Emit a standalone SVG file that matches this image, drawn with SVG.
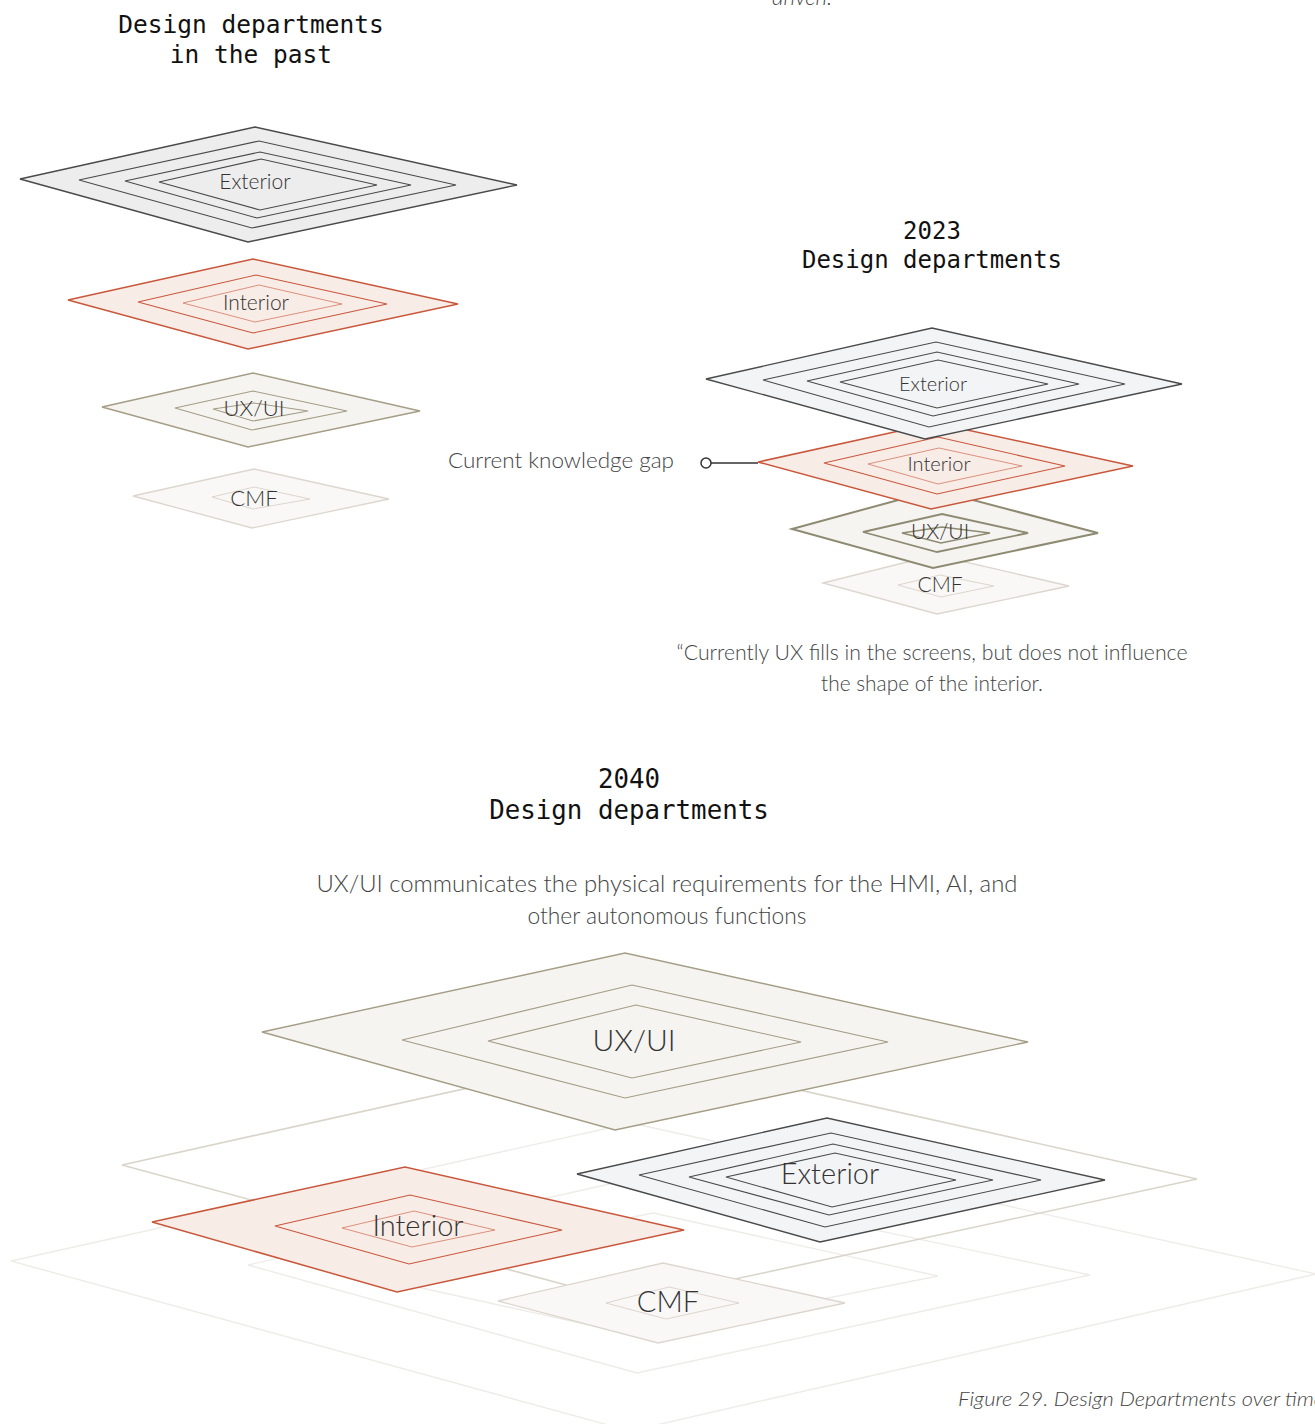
<svg xmlns="http://www.w3.org/2000/svg" width="1315" height="1424" viewBox="0 0 1315 1424">
  <style>
    .title { font-family: "DejaVu Sans Mono", "Liberation Mono", monospace; fill: #111; text-anchor: middle; }
    .lbl { font-family: Lato, "Noto Sans", "Liberation Sans", sans-serif; font-weight: 300; fill: #333; text-anchor: middle; }
    .note { font-family: Lato, "Noto Sans", "Liberation Sans", sans-serif; font-weight: 300; fill: #444; }
    .ext { fill: #f3f4f6; stroke: #4a4a4a; stroke-width: 1.4; }
    .ext-old { fill: #ededed; stroke: #4a4a4a; stroke-width: 1.4; }
    .ext-in { fill: none; stroke: #4a4a4a; stroke-width: 1.1; }
    .int { fill: #f8ece7; stroke: #c9573b; stroke-width: 1.5; }
    .int-in { fill: none; stroke: #c9573b; stroke-width: 1.1; }
    .int-in2 { fill: none; stroke: #d98670; stroke-width: 0.9; }
    .ux { fill: #f5f4f1; stroke: #a59d85; stroke-width: 1.4; }
    .ux-in { fill: none; stroke: #a59d85; stroke-width: 1.1; }
    .cmf { fill: #f9f8f6; stroke: #ddd6ce; stroke-width: 1.3; }
    .cmf-in { fill: none; stroke: #ddd6ce; stroke-width: 1; }
    .ground { fill: none; stroke: #d9d5ca; stroke-width: 1.6; }
    .ground-faint { fill: none; stroke: #eeece8; stroke-width: 1.4; }
  </style>

  <!-- trailing text from the previous column -->
  <text class="note" x="802" y="5" font-size="22" font-style="italic" fill="#555" text-anchor="middle">driven.</text>

  <!-- ===== Past ===== -->
  <g id="title-past">
    <text class="title" x="251" y="33" font-size="24.5">Design departments</text>
    <text class="title" x="251" y="63" font-size="24.5">in the past</text>
  </g>

  <g id="past-exterior">
    <polygon class="ext-old" points="20,179 255,127 517,185 248,242"/>
    <polygon class="ext-in" points="79,180 259,141 456,185 252,228"/>
    <polygon class="ext-in" points="125,181 260,152 411,185 257,218"/>
    <polygon class="ext-in" points="159,182 261,159 377,185 260,210"/>
    <text class="lbl" x="255" y="189" font-size="21">Exterior</text>
  </g>

  <g id="past-interior">
    <polygon class="int" points="68,300 253,259 458,304 248,349"/>
    <polygon class="int-in" points="138,302 256,275 387,304 253,333"/>
    <polygon class="int-in2" points="183,303 259,285 342,304 255,322"/>
    <text class="lbl" x="256" y="310" font-size="21">Interior</text>
  </g>

  <g id="past-uxui">
    <polygon class="ux" points="102,407 253,373 420,411 248,447"/>
    <polygon class="ux-in" points="175,408 253,391 347,411 252,430"/>
    <polygon class="ux-in" points="213,409 254,403 308,411 253,421"/>
    <text class="lbl" x="254" y="416" font-size="22">UX/UI</text>
  </g>

  <g id="past-cmf">
    <polygon class="cmf" points="133,496 254,469 389,499 252,528"/>
    <polygon class="cmf-in" points="212,497 254,487 310,499 253,509"/>
    <text class="lbl" x="254" y="506" font-size="22">CMF</text>
  </g>

  <!-- ===== 2023 ===== -->
  <g id="title-2023">
    <text class="title" x="932" y="239" font-size="24">2023</text>
    <text class="title" x="932" y="268" font-size="24">Design departments</text>
  </g>

  <g id="now-cmf">
    <polygon class="cmf" points="823,583 935,555 1069,586 937,614"/>
    <polygon class="cmf-in" points="898,585 940,575 994,586 941,597"/>
    <text class="lbl" x="940" y="592" font-size="21">CMF</text>
  </g>

  <g id="now-uxui">
    <polygon fill="#f5f4f1" stroke="#8e8b72" stroke-width="2" points="792,529 935,490 1098,533 933,568"/>
    <polygon fill="none" stroke="#8e8b72" stroke-width="1.8" points="863,532 942,514 1028,533 937,552"/>
    <polygon fill="none" stroke="#8e8b72" stroke-width="1.5" points="902,533 942,527 990,533 941,543"/>
    <text class="lbl" x="940" y="539" font-size="21">UX/UI</text>
  </g>

  <g id="now-interior">
    <polygon class="int" points="758,462 935,423 1133,466 931,509"/>
    <polygon class="int-in" points="824,463 938,437 1065,466 937,494"/>
    <polygon class="int-in2" points="868,464 939,448 1022,466 938,484"/>
    <text class="lbl" x="939" y="471" font-size="20">Interior</text>
  </g>

  <g id="now-exterior">
    <polygon class="ext" points="706,379 932,328 1182,384 925,439"/>
    <polygon class="ext-in" points="763,380 936,342 1125,384 929,427"/>
    <polygon class="ext-in" points="807,381 937,352 1079,384 933,416"/>
    <polygon class="ext-in" points="840,382 938,360 1048,384 937,408"/>
    <text class="lbl" x="933" y="391" font-size="20">Exterior</text>
  </g>

  <g id="knowledge-gap">
    <text class="note" x="674" y="468" font-size="21" fill="#333" text-anchor="end" textLength="226" lengthAdjust="spacingAndGlyphs">Current knowledge gap</text>
  </g>

  <g id="connectors">
    <line x1="711" y1="463" x2="758" y2="463" stroke="#333" stroke-width="1.3"/>
    <circle cx="706" cy="463" r="5" fill="#fff" stroke="#333" stroke-width="1.5"/>
  </g>

  <g id="quote-2023">
    <text class="note" x="932" y="660" font-size="21" fill="#555" text-anchor="middle" textLength="511" lengthAdjust="spacingAndGlyphs">“Currently UX fills in the screens, but does not influence</text>
    <text class="note" x="932" y="691" font-size="21" fill="#555" text-anchor="middle" textLength="222" lengthAdjust="spacingAndGlyphs">the shape of the interior.</text>
  </g>

  <!-- ===== 2040 ===== -->
  <g id="title-2040">
    <text class="title" x="629" y="788" font-size="25.8">2040</text>
    <text class="title" x="629" y="819" font-size="25.8">Design departments</text>
  </g>

  <g id="caption-2040">
    <text class="note" x="667" y="892" font-size="23" fill="#444" text-anchor="middle" textLength="701" lengthAdjust="spacingAndGlyphs">UX/UI communicates the physical requirements for the HMI, AI, and</text>
    <text class="note" x="667" y="924" font-size="23" fill="#444" text-anchor="middle" textLength="279" lengthAdjust="spacingAndGlyphs">other autonomous functions</text>
  </g>

  <!-- ground planes under the 2040 stack -->
  <g id="ground-planes">
    <polygon class="ground-faint" points="11,1261 631,1123 1316,1274 630,1431"/>
    <polygon class="ground-faint" points="248,1265 632,1179 1090,1275 637,1373"/>
    <polygon class="ground-faint" points="354,1273 653,1213 938,1276 639,1336"/>
    <polygon class="ground" points="122,1165 630,1052 1197,1179 629,1302"/>
  </g>

  <g id="future-uxui">
    <polygon class="ux" stroke-width="2" points="262,1032 625,953 1028,1042 615,1130"/>
    <polygon class="ux-in" stroke-width="1.4" points="402,1040 632,985 888,1042 625,1098"/>
    <polygon class="ux-in" stroke-width="1.2" points="488,1041 636,1005 801,1042 632,1078"/>
    <text class="lbl" x="634" y="1051" font-size="30">UX/UI</text>
  </g>

  <g id="future-exterior">
    <polygon class="ext" stroke-width="2.2" points="577,1174 827,1118 1105,1180 820,1242"/>
    <polygon class="ext-in" stroke-width="1.8" points="639,1175 831,1133 1041,1180 825,1227"/>
    <polygon class="ext-in" stroke-width="1.4" points="689,1177 833,1144 993,1180 829,1215"/>
    <polygon class="ext-in" stroke-width="1.1" points="726,1177 835,1153 956,1180 832,1207"/>
    <text class="lbl" x="830" y="1184" font-size="29" fill="#222">Exterior</text>
  </g>

  <g id="future-interior">
    <polygon class="int" stroke-width="3" points="152,1222 405,1167 684,1230 397,1292"/>
    <polygon class="int-in" stroke-width="2.2" points="275,1226 410,1195 562,1230 409,1264"/>
    <polygon class="int-in2" stroke-width="1.6" points="342,1228 414,1211 495,1230 412,1247"/>
    <text class="lbl" x="418" y="1236" font-size="29" fill="#222">Interior</text>
  </g>

  <g id="future-cmf">
    <polygon class="cmf" stroke-width="2" points="498,1301 663,1263 845,1303 658,1343"/>
    <polygon class="cmf-in" points="606,1303 669,1287 739,1303 666,1319"/>
    <text class="lbl" x="668" y="1312" font-size="29" fill="#222">CMF</text>
  </g>

  <g id="figure-caption">
    <text class="note" x="958" y="1406" font-size="20" font-style="italic" fill="#555" textLength="366" lengthAdjust="spacingAndGlyphs">Figure 29. Design Departments over time</text>
  </g>
</svg>
